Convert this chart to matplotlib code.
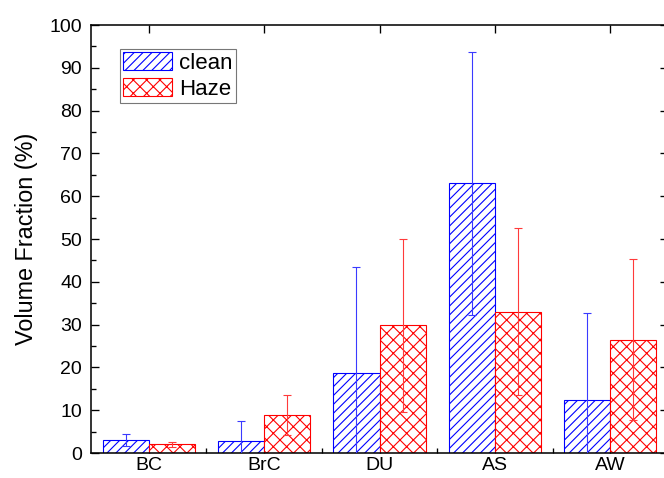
import matplotlib.pyplot as plt
import numpy as np

plt.rcParams['font.family'] = ['Liberation Sans', 'DejaVu Sans']
plt.rcParams['hatch.linewidth'] = 1.0

# Данные
categories = ["BC", "BrC", "DU", "AS", "AW"]
clean = [3.1, 2.8, 18.6, 63.0, 12.5]
clean_err = [1.4, 4.6, 24.8, 30.7, 20.2]
haze = [2.0, 8.9, 29.8, 33.0, 26.5]
haze_err = [0.5, 4.7, 20.2, 19.5, 18.8]

x = np.arange(len(categories))
w = 0.4

fig = plt.figure(figsize=(8.3, 5.975), dpi=80)
ax = fig.add_axes([91 / 664, 1 - 453 / 478, 577 / 664, 428 / 478])

ax.bar(x - w / 2, clean, w, color='white', edgecolor='#0000ff', hatch='///',
       linewidth=1.0, label='clean', zorder=2)
ax.bar(x + w / 2, haze, w, color='white', edgecolor='#ff0000', hatch='xx',
       linewidth=1.0, label='Haze', zorder=2)
ax.errorbar(x - w / 2, clean, yerr=clean_err, fmt='none', ecolor='#3a3aff',
            elinewidth=1.0, capsize=4, capthick=1.0, zorder=3)
ax.errorbar(x + w / 2, haze, yerr=haze_err, fmt='none', ecolor='#ff3a3a',
            elinewidth=1.0, capsize=4, capthick=1.0, zorder=3)

ax.set_xlim(-0.5, 4.5)
ax.set_ylim(0, 100)
ax.set_xticks(x)
ax.set_xticklabels(categories)
ax.set_xticks(x[:-1] + 0.5, minor=True)
ax.set_yticks(np.arange(0, 101, 10))
ax.set_yticks(np.arange(5, 100, 10), minor=True)

ax.tick_params(axis='both', which='major', direction='in', length=7, width=1.2,
               labelsize=17.5, top=True, right=True)
ax.tick_params(axis='y', which='minor', direction='in', length=4.5, width=1.2,
               left=True, right=False)
ax.tick_params(axis='x', which='minor', direction='in', length=4.5, width=1.2,
               bottom=True, top=False)
ax.tick_params(axis='x', which='major', pad=4)
ax.tick_params(axis='y', which='major', pad=8)

for s in ax.spines.values():
    s.set_linewidth(1.4)

ax.set_ylabel("Volume Fraction (%)", fontsize=21, labelpad=10)

leg = ax.legend(loc='upper left', bbox_to_anchor=(0.05, 0.944), borderaxespad=0,
                fontsize=20, fancybox=False, edgecolor='#555555',
                handlelength=2.2, handleheight=0.85, handletextpad=0.3,
                labelspacing=0.2, borderpad=0.15)
leg.get_frame().set_linewidth(1.0)

plt.savefig("out.png", dpi=80)
